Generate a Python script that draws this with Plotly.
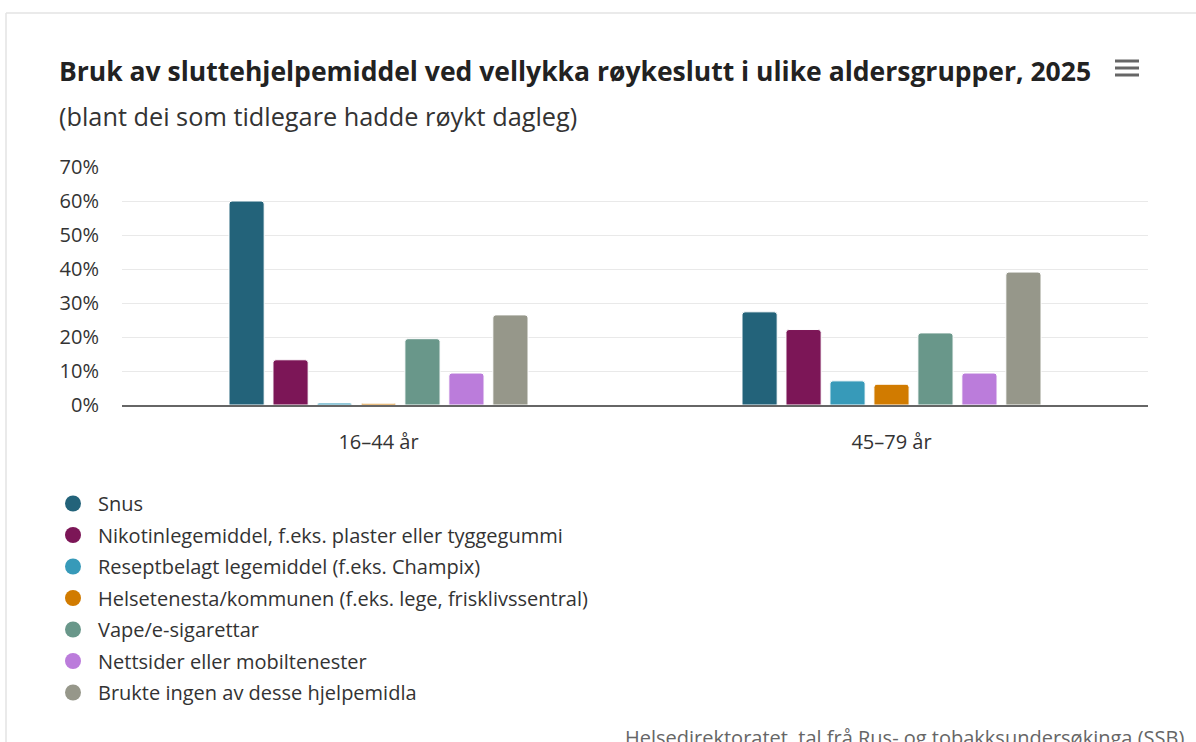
import plotly.graph_objects as go

# Age groups on the x axis
age_groups = ["16–44 år", "45–79 år"]

# Quit-smoking aids (series) and their colours
aids = [
    "Snus",
    "Nikotinlegemiddel, f.eks. plaster eller tyggegummi",
    "Reseptbelagt legemiddel (f.eks. Champix)",
    "Helsetenesta/kommunen (f.eks. lege, frisklivssentral)",
    "Vape/e-sigarettar",
    "Nettsider eller mobiltenester",
    "Brukte ingen av desse hjelpemidla",
]
colors = ["#23637a", "#7c1657", "#379ab9", "#d17b00", "#69978a", "#bb7cdb", "#96978a"]

# Share (%) per aid, one value per age group
snus = [60.0, 27.4]
nikotin = [13.3, 22.2]
resept = [0.6, 7.1]
helse = [0.5, 6.1]
vape = [19.5, 21.2]
nett = [9.4, 9.4]
ingen = [26.5, 39.1]
values = [snus, nikotin, resept, helse, vape, nett, ingen]

y_ticks = [0, 10, 20, 30, 40, 50, 60, 70]
y_tick_labels = [f"{v}%" for v in y_ticks]

W, H = 1196, 742
ML, MR, MT, MB = 122, 48, 167, 337
PW, PH = W - ML - MR, H - MT - MB
FONT = "Open Sans"
TXT = "#333333"


def px(x):
    return (x - ML) / PW


def py(y):
    return (H - MB - y) / PH


fig = go.Figure()
for name, vals, col in zip(aids, values, colors):
    fig.add_trace(go.Bar(
        x=age_groups, y=vals, name=name, legendgroup=name, showlegend=False,
        marker=dict(color=col, line=dict(color="white", width=1)),
        hovertemplate="%{x}<br>" + name + ": %{y}%<extra></extra>",
    ))
    # circular legend swatch
    fig.add_trace(go.Scatter(
        x=[None], y=[None], mode="markers", name=name, legendgroup=name,
        marker=dict(color=col, size=18, symbol="circle"),
    ))

shapes = [
    # outer frame
    dict(type="line", xref="paper", yref="paper", x0=px(6), x1=px(W + 5), y0=py(13), y1=py(13),
         line=dict(color="#e3e3e3", width=1.5)),
    dict(type="line", xref="paper", yref="paper", x0=px(6), x1=px(6), y0=py(13), y1=py(H + 5),
         line=dict(color="#e3e3e3", width=1.5)),
]
# menu icon
for yy in (61, 68, 75):
    shapes.append(dict(type="line", xref="paper", yref="paper", x0=px(1115), x1=px(1139),
                       y0=py(yy), y1=py(yy), line=dict(color="#666666", width=3)))

annotations = [
    dict(text="<b>Bruk av sluttehjelpemiddel ved vellykka røykeslutt i ulike aldersgrupper, 2025</b>",
         xref="paper", yref="paper", x=px(57), y=py(71), xanchor="left", yanchor="middle",
         showarrow=False, font=dict(family=FONT, size=26.5, color="#222222")),
    dict(text="(blant dei som tidlegare hadde røykt dagleg)",
         xref="paper", yref="paper", x=px(57), y=py(116), xanchor="left", yanchor="middle",
         showarrow=False, font=dict(family=FONT, size=25.3, color=TXT)),
    dict(text="Helsedirektoratet, tal frå Rus- og tobakksundersøkinga (SSB)",
         xref="paper", yref="paper", x=px(1186), y=py(722), xanchor="right", yanchor="top",
         showarrow=False, font=dict(family=FONT, size=20, color="#666666")),
]

fig.update_layout(
    width=W, height=H,
    margin=dict(l=ML, r=MR, t=MT, b=MB, autoexpand=False),
    paper_bgcolor="white", plot_bgcolor="white",
    barmode="group", bargap=0.4, bargroupgap=0.2, barcornerradius=3,
    font=dict(family=FONT, size=20, color=TXT),
    showlegend=True,
    legend=dict(
        x=px(48), y=py(484), xanchor="left", yanchor="top",
        font=dict(family=FONT, size=20, color=TXT),
        tracegroupgap=2.5, itemwidth=40, itemclick=False, bgcolor="rgba(0,0,0,0)",
    ),
    shapes=shapes,
    annotations=annotations,
    xaxis=dict(
        showline=True, linecolor="#666666", linewidth=1.5,
        ticks="", ticklabelstandoff=18,
        tickfont=dict(family=FONT, size=20, color=TXT),
        fixedrange=True,
    ),
    yaxis=dict(
        range=[0, 70], tickmode="array", tickvals=y_ticks, ticktext=y_tick_labels,
        showgrid=True, gridcolor="#e9e9e9", gridwidth=1,
        zeroline=False, showline=False, ticks="", ticklabelstandoff=22,
        tickfont=dict(family=FONT, size=20, color=TXT),
        fixedrange=True,
    ),
)

fig.write_html("out.html", config={"displayModeBar": False})
